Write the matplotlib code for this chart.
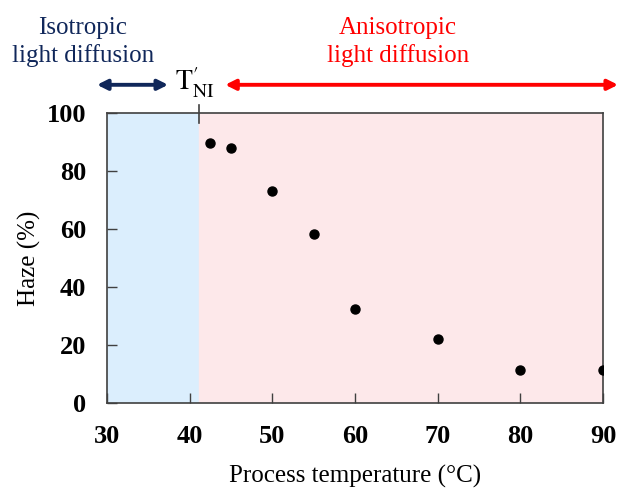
import matplotlib
matplotlib.use("Agg")
import matplotlib.pyplot as plt

plt.rcParams['font.family'] = ['Liberation Serif', 'DejaVu Serif']
plt.rcParams['mathtext.fontset'] = 'stix'

# data
temp = [42.5, 45, 50, 55, 60, 70, 80, 90]
haze = [89.7, 88.0, 73.2, 58.4, 32.3, 22.0, 11.4, 11.4]
t_ni = 41.1
x_ticks = [30, 40, 50, 60, 70, 80, 90]
y_ticks = [0, 20, 40, 60, 80, 100]

navy = '#10275a'
red = '#ff0000'

fig = plt.figure(figsize=(6.18, 4.88), dpi=100)
ax = fig.add_axes([0.173, 0.174, 0.803, 0.594])

ax.axvspan(30, t_ni, color='#dbeefd', zorder=0)
ax.axvspan(t_ni, 90, color='#fde8ea', zorder=0)
ax.plot(temp, haze, 'o', color='black', markersize=6.5, zorder=3)

ax.set_xlim(30, 90)
ax.set_ylim(0, 100)
ax.set_xticks(x_ticks)
ax.set_yticks(y_ticks)
ax.tick_params(direction='in', length=7, width=1, colors='#404040',
               labelcolor='black', labelsize=19)
ax.tick_params(axis='x', pad=16)
ax.tick_params(axis='y', pad=15)
for lab in ax.get_xticklabels() + ax.get_yticklabels():
    lab.set_fontweight('bold')
for s in ax.spines.values():
    s.set_color('#404040')
    s.set_linewidth(1.2)

ax.set_xlabel('Process temperature (°C)', fontsize=18, labelpad=12)
ax.set_ylabel('Haze (%)', fontsize=18, labelpad=4)

# T'NI marker across the top spine
ax.plot([t_ni, t_ni], [96.5, 103], color='#404040', lw=1.2, clip_on=False)

arrow_y = 109.8
ax.annotate('', xy=(28.8, arrow_y), xytext=(37.4, arrow_y),
            arrowprops=dict(arrowstyle='<|-|>', color=navy, lw=2.8,
                            mutation_scale=15, shrinkA=0, shrinkB=0),
            annotation_clip=False)
ax.annotate('', xy=(91.8, arrow_y), xytext=(44.3, arrow_y),
            arrowprops=dict(arrowstyle='<|-|>', color=red, lw=2.8,
                            mutation_scale=15, shrinkA=0, shrinkB=0),
            annotation_clip=False)

ax.text(27.1, 124.5, 'Isotropic\nlight diffusion', color=navy, fontsize=18,
        ha='center', va='center', linespacing=1.3, clip_on=False)
ax.text(65.2, 124.5, 'Anisotropic\nlight diffusion', color=red, fontsize=18,
        ha='center', va='center', linespacing=1.3, clip_on=False)
ax.text(40.6, 110.3, r"$\mathrm{T}_{\mathrm{NI}}^{\prime}$", fontsize=20,
        ha='center', va='center', clip_on=False)

fig.savefig('out.png', dpi=100)
